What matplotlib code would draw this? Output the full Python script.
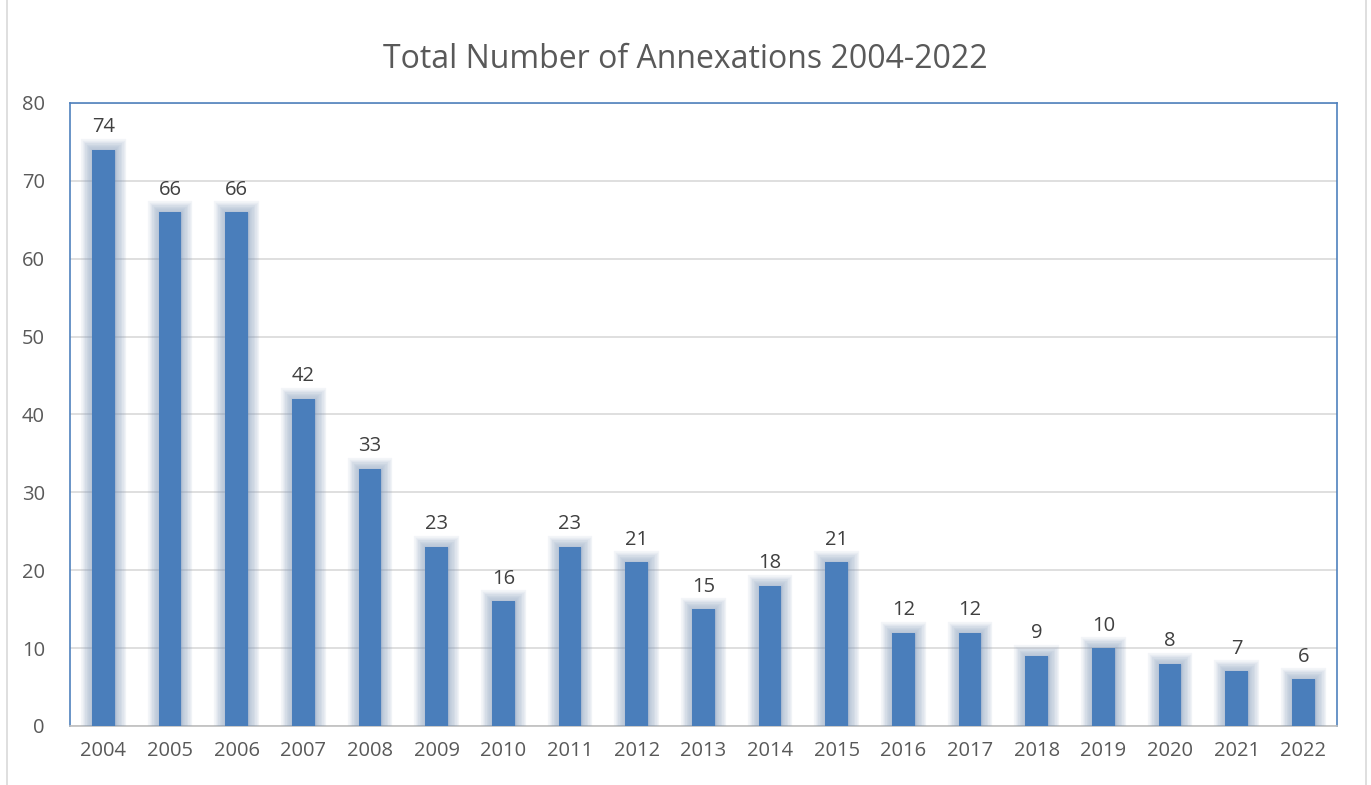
import matplotlib.pyplot as plt
import matplotlib.patheffects as pe
from matplotlib.lines import Line2D

years = [str(y) for y in range(2004, 2023)]
annexations = [74, 66, 66, 42, 33, 23, 16, 23, 21, 15, 18, 21, 12, 12, 9, 10, 8, 7, 6]

bar_color = "#4A7EBB"
glow_color = "#7F98BA"
text_color = "#595959"

plt.rcParams["font.family"] = ["Open Sans", "DejaVu Sans"]

fig = plt.figure(figsize=(13.71, 7.85), dpi=100)
ax = fig.add_axes([0.051, 0.0752, 0.924, 0.7936])

# soft glow around bars: stacked strokes, widest first
glow = [pe.Stroke(linewidth=w, foreground=glow_color, alpha=0.09)
        for w in range(16, 1, -2)]
glow.append(pe.Normal())

x = range(len(years))
bars = ax.bar(x, annexations, width=0.34, color=bar_color, zorder=3)
for b in bars:
    b.set_path_effects(glow)

for xi, v in zip(x, annexations):
    ax.annotate(str(v), (xi, v), xytext=(0, 9), textcoords="offset points",
                ha="center", va="bottom", fontsize=14.5, color="#404040")

ax.set_xlim(-0.5, len(years) - 0.5)
ax.set_ylim(0, 80)
ax.set_yticks(range(0, 81, 10))
ax.set_xticks(list(x))
ax.set_xticklabels(years)
ax.tick_params(axis="both", length=0, labelsize=14.5, labelcolor=text_color)
ax.tick_params(axis="y", pad=18)
ax.tick_params(axis="x", pad=11)
ax.grid(axis="y", color="#D9D9D9", linewidth=1.2, zorder=0)
ax.set_axisbelow(True)

for side in ["left", "top", "right"]:
    ax.spines[side].set_color("#4F81BD")
    ax.spines[side].set_linewidth(1.2)
ax.spines["bottom"].set_color("#BFBFBF")
ax.spines["bottom"].set_linewidth(1.2)

fig.suptitle("Total Number of Annexations 2004-2022", y=0.945, fontsize=23,
             color=text_color)

# outer chart border
for xf in [7 / 1371, 1366 / 1371]:
    fig.add_artist(Line2D([xf, xf], [0, 1], color="#D9D9D9", linewidth=1.2,
                          transform=fig.transFigure))

fig.savefig("out.png", dpi=100)
